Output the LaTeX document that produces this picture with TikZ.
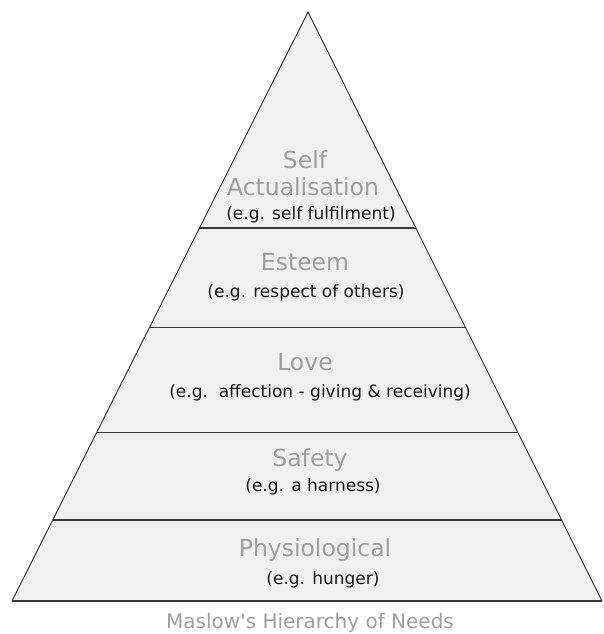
\documentclass[tikz,border=0pt]{standalone}
\usepackage{fontspec}
\newfontfamily\pyrfont{DejaVu Sans}
\usepackage{tikz}
\usetikzlibrary{calc}
\definecolor{layerfill}{HTML}{F0F0F0}
\definecolor{levelgray}{HTML}{9E9E9E}
\definecolor{edgedark}{HTML}{383838}

\begin{document}
\begin{tikzpicture}[x=1pt,y=-1pt,
  level/.style={anchor=base,inner sep=0pt,text=levelgray,
                font=\pyrfont\fontsize{23.5}{26}\selectfont},
  example/.style={anchor=base,inner sep=0pt,text=black!90,
                  font=\pyrfont\fontsize{17}{20}\selectfont},
  rung/.style={draw=edgedark,line width=1.4pt},
  side/.style={draw=edgedark,line width=1pt,line join=miter}
]
  \useasboundingbox (0,0) rectangle (603,634);
  \coordinate (apex) at (308,12);
  \coordinate (bl) at (12,601);
  \coordinate (br) at (602,601);

  % pyramid and its layers
  \fill[layerfill] (apex) -- (bl) -- (br) -- cycle;
  \foreach \t in {0.3667,0.5357,0.7139,0.8625}
    \draw[rung] ($(apex)!\t!(bl)$) -- ($(apex)!\t!(br)$);
  \draw[side] (bl) -- (apex) -- (br);
  \draw[rung] (bl) -- (br);

  \node[level] (self) at (305,168.5) {Self};
  \node[level] (actual) at (303,195) {Actualisation};
  \node[example] (selfeg) at (311,219) {(e.g. self fulfilment)};

  \node[level] (esteem) at (305,270) {Esteem};
  \node[example] (esteemeg) at (306,297) {(e.g. respect of others)};

  \node[level] (love) at (305,370.5) {Love};
  \node[example] (loveeg) at (320,397) {(e.g.\ \ affection - giving \& receiving)};

  \node[level] (safety) at (310,466) {Safety};
  \node[example] (safetyeg) at (313,491) {(e.g. a harness)};

  \node[level] (physio) at (315,556) {Physiological};
  \node[example] (physioeg) at (323,584) {(e.g. hunger)};

  \node[level,font=\pyrfont\fontsize{20}{22}\selectfont] (title) at (310,628)
    {Maslow's Hierarchy of Needs};
\end{tikzpicture}
\end{document}
